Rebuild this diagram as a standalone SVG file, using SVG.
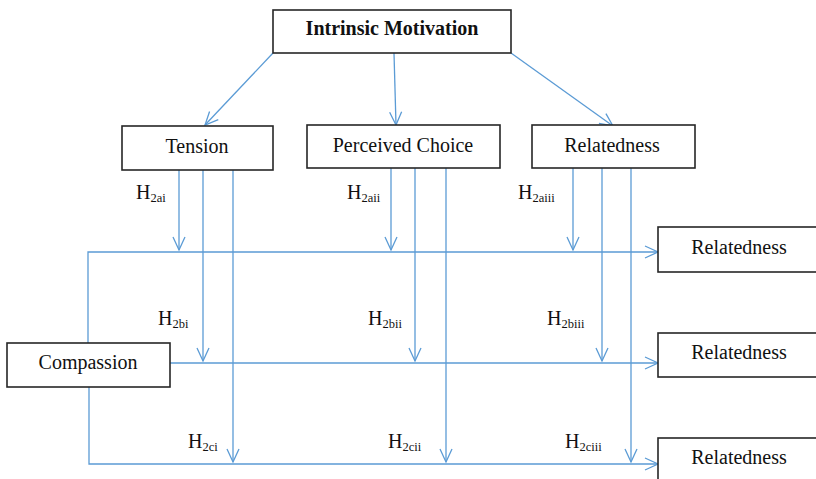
<svg xmlns="http://www.w3.org/2000/svg" width="816" height="479" viewBox="0 0 816 479">
<style>
.box{fill:#fff;stroke:#262626;stroke-width:1.6}
.lbl{font-family:"Liberation Serif","Times New Roman",serif;font-size:20px;fill:#111}
.b{font-weight:bold}
.c{fill:none;stroke:#5B9BD5;stroke-width:1.3}
.h{font-family:"Liberation Serif","Times New Roman",serif;font-size:20px;fill:#111}
.s{font-size:12.5px}
</style>
<defs>
<marker id="ah" markerUnits="userSpaceOnUse" markerWidth="16" markerHeight="16" viewBox="0 0 16 16" refX="14" refY="8" orient="auto">
<path d="M1,2 L14,8 L1,14" fill="none" stroke="#5B9BD5" stroke-width="1.3"/>
</marker>
</defs>
<rect width="816" height="479" fill="#fff"/>
<g id="connectors">
<line class="c" x1="273" y1="53" x2="205" y2="125" marker-end="url(#ah)"/>
<line class="c" x1="394" y1="53" x2="396" y2="125" marker-end="url(#ah)"/>
<line class="c" x1="511" y1="53" x2="613" y2="126" marker-end="url(#ah)"/>
<line class="c" x1="179" y1="170" x2="179" y2="250" marker-end="url(#ah)"/>
<line class="c" x1="203" y1="170" x2="203" y2="361" marker-end="url(#ah)"/>
<line class="c" x1="233" y1="170" x2="233" y2="462" marker-end="url(#ah)"/>
<line class="c" x1="391" y1="168" x2="391" y2="250" marker-end="url(#ah)"/>
<line class="c" x1="415" y1="168" x2="415" y2="361" marker-end="url(#ah)"/>
<line class="c" x1="446" y1="168" x2="446" y2="462" marker-end="url(#ah)"/>
<line class="c" x1="573" y1="168" x2="573" y2="250" marker-end="url(#ah)"/>
<line class="c" x1="602" y1="168" x2="602" y2="361" marker-end="url(#ah)"/>
<line class="c" x1="631" y1="168" x2="631" y2="462" marker-end="url(#ah)"/>
<polyline class="c" points="88,343 88,252 658,252" marker-end="url(#ah)"/>
<line class="c" x1="170" y1="363" x2="658" y2="363" marker-end="url(#ah)"/>
<polyline class="c" points="89,387 89,464 658,464" marker-end="url(#ah)"/>
</g>
<g id="intrinsic">
<rect class="box" x="273" y="10" width="238" height="43"/>
<text class="lbl b" x="392" y="35" text-anchor="middle">Intrinsic Motivation</text>
</g>
<g id="tension">
<rect class="box" x="122" y="126" width="151" height="44"/>
<text class="lbl" x="197" y="153" text-anchor="middle">Tension</text>
</g>
<g id="perceived">
<rect class="box" x="307" y="125" width="193" height="43"/>
<text class="lbl" x="403" y="152" text-anchor="middle">Perceived Choice</text>
</g>
<g id="relatedness-top">
<rect class="box" x="532" y="125" width="163" height="43"/>
<text class="lbl" x="612" y="152" text-anchor="middle">Relatedness</text>
</g>
<g id="compassion">
<rect class="box" x="7" y="343" width="163" height="44"/>
<text class="lbl" x="88" y="369" text-anchor="middle">Compassion</text>
</g>
<g id="relatedness-1">
<rect class="box" x="658" y="227" width="170" height="45"/>
<text class="lbl" x="739" y="254" text-anchor="middle">Relatedness</text>
</g>
<g id="relatedness-2">
<rect class="box" x="658" y="333" width="170" height="44"/>
<text class="lbl" x="739" y="359" text-anchor="middle">Relatedness</text>
</g>
<g id="relatedness-3">
<rect class="box" x="658" y="438" width="170" height="50"/>
<text class="lbl" x="739" y="464" text-anchor="middle">Relatedness</text>
</g>
<g id="labels">
<text class="h" x="136" y="199">H<tspan class="s" dy="3">2ai</tspan></text>
<text class="h" x="347" y="199">H<tspan class="s" dy="3">2aii</tspan></text>
<text class="h" x="518" y="199">H<tspan class="s" dy="3">2aiii</tspan></text>
<text class="h" x="158" y="325">H<tspan class="s" dy="3">2bi</tspan></text>
<text class="h" x="368" y="325">H<tspan class="s" dy="3">2bii</tspan></text>
<text class="h" x="547" y="325">H<tspan class="s" dy="3">2biii</tspan></text>
<text class="h" x="188" y="448">H<tspan class="s" dy="3">2ci</tspan></text>
<text class="h" x="388" y="448">H<tspan class="s" dy="3">2cii</tspan></text>
<text class="h" x="565" y="448">H<tspan class="s" dy="3">2ciii</tspan></text>
</g>
</svg>
